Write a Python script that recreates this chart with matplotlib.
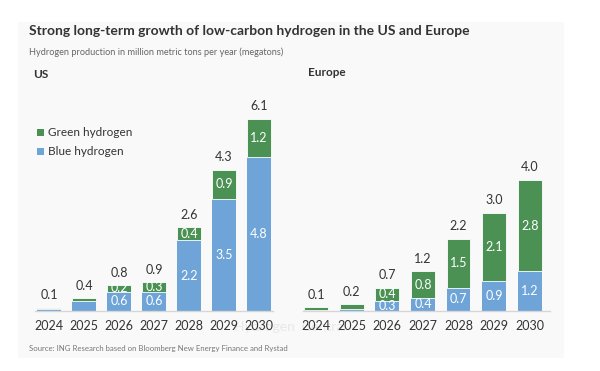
import matplotlib.pyplot as plt
from matplotlib.patches import Rectangle

# dados (megatons por ano)
anos = ["2024", "2025", "2026", "2027", "2028", "2029", "2030"]

us_azul = [0.05, 0.3, 0.6, 0.6, 2.2, 3.5, 4.8]
us_verde = [0.05, 0.1, 0.2, 0.3, 0.4, 0.9, 1.2]
us_total = ["0.1", "0.4", "0.8", "0.9", "2.6", "4.3", "6.1"]
us_rot_azul = ["", "", "0.6", "0.6", "2.2", "3.5", "4.8"]
us_rot_verde = ["", "", "0.2", "0.3", "0.4", "0.9", "1.2"]

eu_azul = [0.03, 0.05, 0.3, 0.4, 0.7, 0.9, 1.2]
eu_verde = [0.07, 0.15, 0.4, 0.8, 1.5, 2.1, 2.8]
eu_total = ["0.1", "0.2", "0.7", "1.2", "2.2", "3.0", "4.0"]
eu_rot_azul = ["", "", "0.3", "0.4", "0.7", "0.9", "1.2"]
eu_rot_verde = ["", "", "0.4", "0.8", "1.5", "2.1", "2.8"]

VERDE = "#4c9154"
AZUL = "#6fa4d8"
TEXTO = "#333333"

plt.rcParams['font.family'] = ['Lato', 'DejaVu Sans']

W, H = 600, 371
fig = plt.figure(figsize=(6, 3.71), dpi=100)

# painel cinza claro de fundo
fundo = Rectangle((18 / W, 1 - 358 / H), 546 / W, 336 / H,
                  transform=fig.transFigure, facecolor="#f9f9f9",
                  edgecolor="none", zorder=-10)
fig.add_artist(fundo)

base = 1 - 310.7 / H
altura = 6.5 * 32 / H


def painel(x0, x1, azul, verde, total, rot_azul, rot_verde, xlim, ytopo):
    ax = fig.add_axes([x0 / W, base, (x1 - x0) / W, altura])
    ax.patch.set_alpha(0)
    x = list(range(len(anos)))
    ax.bar(x, azul, width=0.67, color=AZUL, zorder=2)
    ax.bar(x, verde, width=0.67, bottom=azul, color=VERDE, zorder=2,
           edgecolor="white", linewidth=0.6)
    for i in x:
        topo = azul[i] + verde[i]
        ax.text(i, topo + 0.2, total[i], ha="center", va="bottom",
                fontsize=9, color=TEXTO)
        if rot_azul[i]:
            ax.text(i, azul[i] / 2, rot_azul[i], ha="center", va="center",
                    fontsize=9, color="white")
        if rot_verde[i]:
            ax.text(i, azul[i] + verde[i] / 2, rot_verde[i], ha="center",
                    va="center", fontsize=9, color="white")
    ax.set_xlim(*xlim)
    ax.set_ylim(0, ytopo)
    ax.set_xticks(x)
    ax.set_xticklabels(anos, fontsize=9, color=TEXTO)
    ax.tick_params(axis="x", length=0, pad=7)
    ax.set_yticks([])
    for s in ["top", "right", "left"]:
        ax.spines[s].set_visible(False)
    ax.spines["bottom"].set_color("#d6d6d6")
    ax.spines["bottom"].set_linewidth(1)
    return ax


painel(35, 273, us_azul, us_verde, us_total, us_rot_azul, us_rot_verde,
       (-0.4, 6.4), 6.5)
painel(303, 550, eu_azul, eu_verde, eu_total, eu_rot_azul, eu_rot_verde,
       (-0.37, 6.57), 6.36)

fig.text(29 / W, 1 - 31 / H,
         "Strong long-term growth of low-carbon hydrogen in the US and Europe",
         fontsize=10, fontweight="bold", color=TEXTO, va="center")
fig.text(29 / W, 1 - 52 / H,
         "Hydrogen production in million metric tons per year (megatons)",
         fontsize=6.6, color="#666666", va="center")
fig.text(33 / W, 1 - 75 / H, "US", fontsize=8.5, fontweight="bold",
         color=TEXTO, va="center")
fig.text(308 / W, 1 - 73 / H, "Europe", fontsize=8.5, fontweight="bold",
         color=TEXTO, va="center")

# legenda
fig.add_artist(Rectangle((36.5 / W, 1 - 136 / H), 7 / W, 7 / H,
                         transform=fig.transFigure, facecolor=VERDE))
fig.add_artist(Rectangle((36.5 / W, 1 - 155 / H), 7 / W, 7 / H,
                         transform=fig.transFigure, facecolor=AZUL))
fig.text(48 / W, 1 - 132.5 / H, "Green hydrogen", fontsize=8.5,
         color=TEXTO, va="center")
fig.text(48 / W, 1 - 151.5 / H, "Blue hydrogen", fontsize=8.5,
         color=TEXTO, va="center")

# marca d'agua
fig.text(290 / W, 1 - 327 / H, "Hydrogen  Central", fontsize=10,
         color="#e8e8e8", ha="center", va="center", zorder=-5)

fig.text(29 / W, 1 - 349 / H,
         "Source: ING Research based on Bloomberg New Energy Finance and Rystad",
         fontsize=5.6, color="#777777", va="center")

fig.savefig("out.png", dpi=100)
